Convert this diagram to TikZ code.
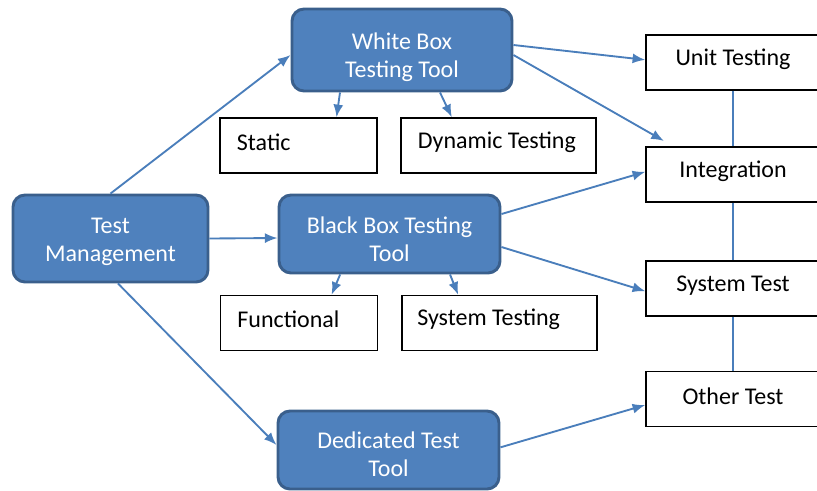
\documentclass[tikz,border=0pt]{standalone}
\usepackage{fontspec}
\setmainfont{Carlito}
\usepackage{tikz}
\usetikzlibrary{arrows.meta}
\definecolor{boxblue}{HTML}{4F81BD}
\definecolor{boxedge}{HTML}{3A5F8C}
\definecolor{linkblue}{HTML}{4A7EBB}
\tikzset{
  bluebox/.style={rounded corners=9pt, draw=boxedge, fill=boxblue, line width=2.2pt},
  bluetext/.style={text=white, align=center, font=\fontsize{18}{21}\selectfont},
  plainbox/.style={draw=black, line width=1.1pt, minimum height=41.25pt, fill=white},
  boxtext/.style={anchor=west, font=\fontsize{18}{21}\selectfont},
  leveltext/.style={font=\fontsize{18}{21}\selectfont, yshift=2.25pt},
  link/.style={-{Latex[length=9.5pt,width=7.5pt]}, draw=linkblue, fill=linkblue, line width=1.4pt},
  chain/.style={draw=linkblue, line width=1.3pt},
}

\begin{document}
\begin{tikzpicture}[x=0.75pt, y=-0.75pt]
  \useasboundingbox (0,0) rectangle (817,490);
  \clip (0,0) rectangle (817,490);

  % tool boxes
  \node[bluebox, minimum width=165pt, minimum height=61.5pt] (white) at (402,50) {};
  \node[bluetext] (whitetext) at (402,57) {White Box\\Testing Tool};
  \node[bluebox, minimum width=146.25pt, minimum height=65.25pt] (mgmt) at (110.5,238.5) {};
  \node[bluetext] (mgmttext) at (110.5,241.5) {Test\\Management};
  \node[bluebox, minimum width=165.75pt, minimum height=58.5pt] (black) at (389.5,234) {};
  \node[bluetext] (blacktext) at (389.5,239) {Black Box Testing\\Tool};
  \node[bluebox, minimum width=165.75pt, minimum height=58.5pt] (ded) at (388.5,450) {};
  \node[bluetext] (dedtext) at (388.5,454) {Dedicated Test\\Tool};

  % sub boxes
  \node[plainbox, minimum width=117.75pt, label={[boxtext, xshift=9.75pt, yshift=2.5pt]west:Static}] (static) at (298.5,145.5) {};
  \node[plainbox, minimum width=146.25pt, label={[boxtext, xshift=9.75pt, yshift=2.5pt]west:Dynamic Testing}] (dynamic) at (498.5,145.5) {};
  \node[plainbox, minimum width=117.75pt, label={[boxtext, xshift=9.75pt, yshift=2.5pt]west:Functional}] (functional) at (299,323) {};
  \node[plainbox, minimum width=146.25pt, label={[boxtext, xshift=8.5pt, yshift=2.5pt]west:System Testing}] (systesting) at (499.5,323) {};

  % test levels
  \node[plainbox, minimum width=130.5pt, label={[leveltext]center:Unit Testing}] (unit) at (733,62.5) {};
  \node[plainbox, minimum width=130.5pt, label={[leveltext]center:Integration}] (integ) at (733,174.5) {};
  \node[plainbox, minimum width=130.5pt, label={[leveltext]center:System Test}] (system) at (733,288.5) {};
  \node[plainbox, minimum width=130.5pt, label={[leveltext]center:Other Test}] (other) at (733,399) {};

  \draw[chain] (unit.south) -- (integ.north);
  \draw[chain] (integ.south) -- (system.north);
  \draw[chain] (system.south) -- (other.north);

  \draw[link] (mgmt.north) -- ([yshift=-3.75pt]white.west);
  \draw[link] (mgmt.east) -- ([yshift=-3pt]black.west);
  \draw[link] ([xshift=5.6pt]mgmt.south) -- ([yshift=3.75pt]ded.west);

  \draw[link] ([xshift=-46.5pt]white.south) -- ([xshift=28.5pt]static.north);
  \draw[link] ([xshift=28.5pt]white.south) -- ([xshift=-35pt]dynamic.north);
  \draw[link] ([yshift=3.75pt]white.east) -- ([yshift=2pt]unit.west);
  \draw[link] ([yshift=-3.75pt]white.east) -- ([xshift=14pt, yshift=4pt]integ.north west);

  \draw[link] ([yshift=15pt]black.east) -- ([yshift=2pt]integ.west);
  \draw[link] ([yshift=-9.75pt]black.east) -- ([yshift=-2pt]system.west);
  \draw[link] ([xshift=-37pt]black.south) -- ([xshift=24.4pt]functional.north);
  \draw[link] ([xshift=45.4pt]black.south) -- ([xshift=-31pt]systesting.north);

  \draw[link] ([yshift=2pt]ded.east) -- ([yshift=-4.5pt]other.west);
\end{tikzpicture}
\end{document}
